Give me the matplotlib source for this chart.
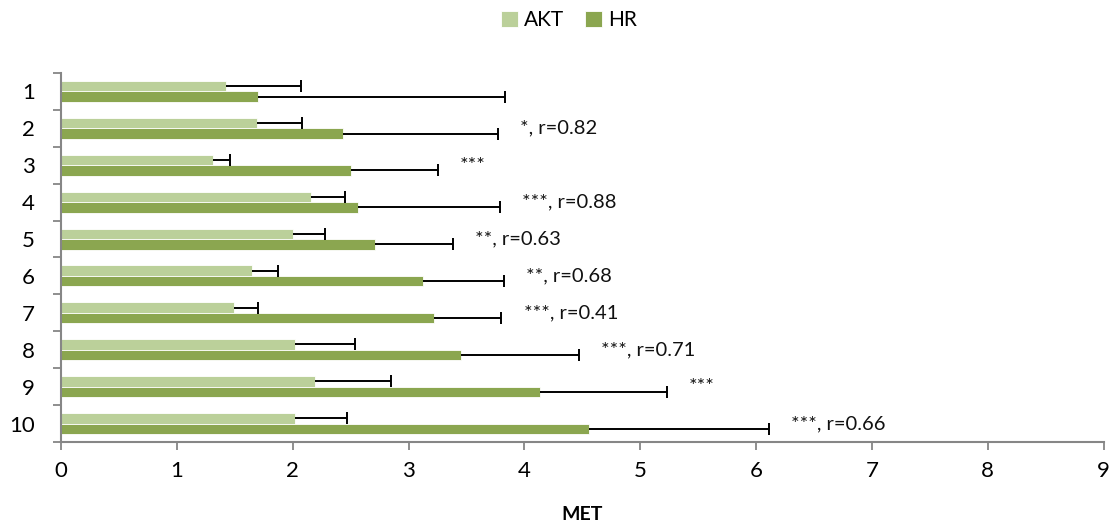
import matplotlib.pyplot as plt
import numpy as np

plt.rcParams['font.family'] = ['Lato', 'DejaVu Sans']

# Mean MET and SD per activity, for the accelerometer (AKT) and heart rate (HR)
activities = ["1", "2", "3", "4", "5", "6", "7", "8", "9", "10"]
akt_mean = [1.42, 1.69, 1.31, 2.16, 2.00, 1.65, 1.49, 2.02, 2.19, 2.02]
akt_sd = [0.65, 0.39, 0.15, 0.29, 0.28, 0.22, 0.21, 0.52, 0.66, 0.45]
hr_mean = [1.70, 2.43, 2.50, 2.56, 2.71, 3.12, 3.22, 3.45, 4.13, 4.56]
hr_sd = [2.13, 1.34, 0.75, 1.23, 0.67, 0.70, 0.58, 1.02, 1.10, 1.55]
notes = ["", "*, r=0.82", "***", "***, r=0.88", "**, r=0.63",
         "**, r=0.68", "***, r=0.41", "***, r=0.71", "***", "***, r=0.66"]

akt_color = "#BBD09A"
hr_color = "#8BA650"
axis_gray = "#868686"

fig = plt.figure(figsize=(11.16, 5.27), dpi=100)
ax = fig.add_axes([0.0547, 0.1613, 0.9343, 0.7002])

y = np.arange(len(activities))
h = 0.285

ax.barh(y - h / 2, akt_mean, height=h, color=akt_color, edgecolor="white",
        linewidth=0.6, label="AKT", zorder=2)
ax.barh(y + h / 2, hr_mean, height=h, color=hr_color, edgecolor="white",
        linewidth=0.6, label="HR", zorder=2)

# one-sided whiskers: hide the cap that would sit on the bar end
zeros = np.zeros(len(activities))
for mean, sd, yy in ((akt_mean, akt_sd, y - h / 2), (hr_mean, hr_sd, y + h / 2)):
    eb = ax.errorbar(mean, yy, xerr=[zeros, sd], fmt="none", ecolor="black",
                     elinewidth=1.4, capsize=4, capthick=1.4, zorder=3)
    eb[1][0].set_visible(False)

# significance / correlation notes to the right of the HR whiskers
for i, txt in enumerate(notes):
    if txt:
        ax.annotate(txt, xy=(hr_mean[i] + hr_sd[i], y[i]), xytext=(16, 0),
                    textcoords="offset points", ha="left", va="center",
                    fontsize=14.5, color="#111111")

ax.set_xlim(0, 9)
ax.set_ylim(len(activities) - 0.5, -0.5)
ax.set_xticks(np.arange(0, 10))
ax.set_yticks(y)
ax.set_yticklabels(activities)
ax.set_yticks(np.arange(-0.5, len(activities)), minor=True)

ax.tick_params(axis="y", which="major", length=0, pad=19, labelsize=16)
ax.tick_params(axis="y", which="minor", length=6, width=1.3, color=axis_gray,
               direction="out")
ax.tick_params(axis="x", length=6, width=1.3, color=axis_gray, pad=8,
               labelsize=16)

for side in ("top", "right"):
    ax.spines[side].set_visible(False)
for side in ("left", "bottom"):
    ax.spines[side].set_color(axis_gray)
    ax.spines[side].set_linewidth(1.5)

ax.set_xlabel("MET", fontsize=14, fontweight="bold", labelpad=18)

fig.legend(loc="center", bbox_to_anchor=(0.51, 0.962), ncol=2, frameon=False,
           fontsize=15, handlelength=0.8, handleheight=0.8, handletextpad=0.3,
           columnspacing=1.0)

fig.savefig("out.png", dpi=100)
